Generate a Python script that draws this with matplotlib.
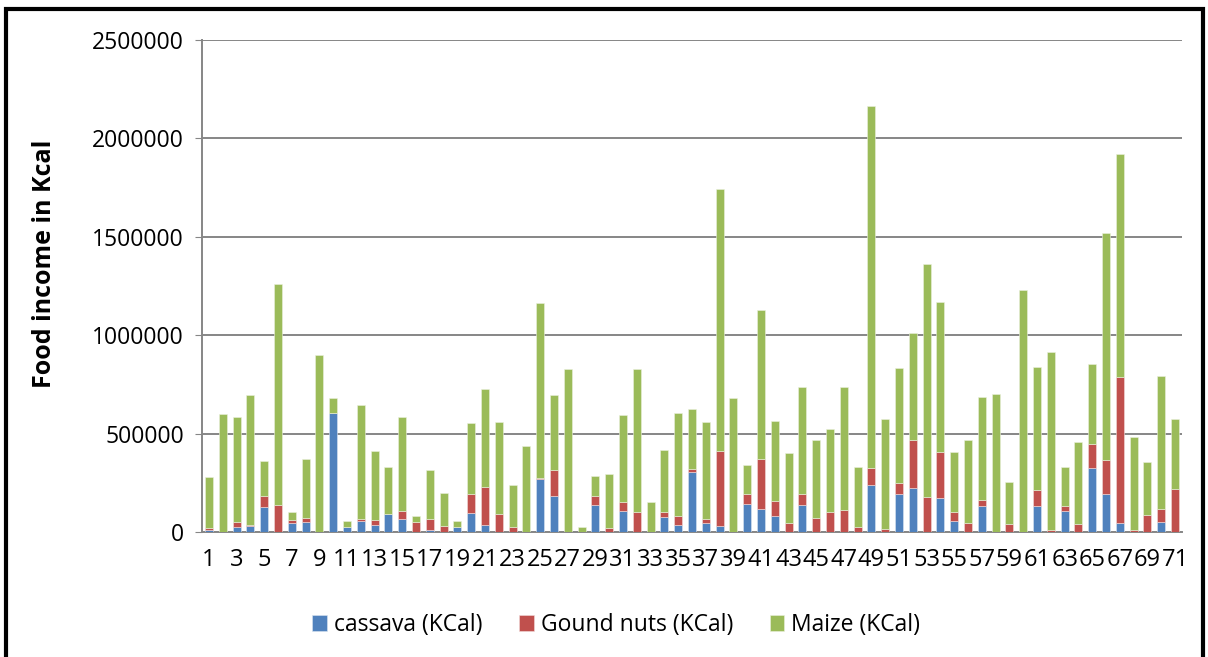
import numpy as np
import matplotlib
matplotlib.use("Agg")
import matplotlib.pyplot as plt
from matplotlib.patches import Rectangle

# food income per household, stacked by crop (KCal)
households = np.arange(1, 72)

cassava = [12000, 0, 25000, 34000, 127000, 0, 45000, 52000, 0, 606000,
           29000, 57000, 35000, 91000, 69000, 0, 13500, 0, 29000, 96000,
           35000, 0, 0, 0, 272000, 184000, 0, 0, 140000, 0,
           108000, 0, 0, 76000, 35000, 304000, 45000, 32000, 0, 143000,
           116000, 81000, 0, 137000, 0, 0, 0, 0, 241000, 0,
           197000, 226000, 0, 174000, 56000, 0, 135000, 0, 0, 0,
           132000, 0, 106000, 0, 327000, 194000, 45000, 0, 0, 51000, 0]

groundnuts = [11600, 3000, 29000, 3000, 59000, 138000, 18500, 20500, 0, 0,
              0, 12000, 27000, 2000, 40700, 54000, 55500, 33700, 0, 99700,
              195600, 94500, 28700, 0, 3000, 133000, 0, 0, 45600, 22000,
              47200, 104600, 0, 28600, 47300, 16500, 23500, 379600, 0, 52300,
              256400, 76000, 49000, 55400, 70900, 103000, 114700, 27000, 87800, 18500,
              54000, 243000, 180500, 236200, 47300, 47000, 27000, 0, 42000, 0,
              82400, 11800, 27000, 44000, 121700, 172000, 742300, 11800, 89400, 69200,
              219000]

maize = [258100, 599000, 531000, 658000, 178400, 1122000, 39000, 298500, 901000, 77000,
         26700, 577000, 349200, 239000, 477300, 27000, 249800, 167000, 26700, 359300,
         496000, 465500, 209200, 440000, 890700, 378000, 830000, 28700, 101200, 273200,
         440300, 725400, 153500, 315400, 524600, 303500, 492800, 1330900, 683000, 145100,
         757200, 408000, 354000, 545000, 398100, 421700, 624300, 307000, 1838000, 555100,
         582000, 543000, 1181500, 761000, 302000, 422000, 524600, 701800, 211000, 1228000,
         626000, 905900, 199000, 415000, 406300, 1155000, 1134200, 474100, 268200, 673200,
         358000]

labels = ['cassava (KCal)', 'Gound nuts (KCal)', 'Maize (KCal)']
colors = ['#4F81BD', '#C0504D', '#9BBB59']

plt.rcParams['font.family'] = ['Open Sans', 'DejaVu Sans']

fig = plt.figure(figsize=(12.08, 6.57), dpi=100)
ax = fig.add_axes([202/1208, 1 - 532.3/657, 980/1208, (532.3 - 40)/657])

c = np.array(cassava)
g = np.array(groundnuts)
m = np.array(maize)
w = 0.58
ax.bar(households, c, w, color=colors[0], edgecolor='#dbe5f1', linewidth=0.4, label=labels[0], zorder=3)
ax.bar(households, g, w, bottom=c, color=colors[1], edgecolor='#f2dcdb', linewidth=0.4, label=labels[1], zorder=3)
ax.bar(households, m, w, bottom=c + g, color=colors[2], edgecolor='#ebf1de', linewidth=0.4, label=labels[2], zorder=3)

ax.set_xlim(0.5, 71.5)
ax.set_ylim(0, 2500000)
ax.set_yticks(np.arange(0, 2500001, 500000))
ax.set_yticklabels([str(v) for v in range(0, 2500001, 500000)])
ax.set_xticks(households[::2])
ax.set_xticklabels([str(h) for h in households[::2]])
ax.yaxis.grid(True, color='#868686', linewidth=1.4, zorder=0)
ax.set_axisbelow(True)

for s in ['top', 'right']:
    ax.spines[s].set_visible(False)
for s in ['left', 'bottom']:
    ax.spines[s].set_color('#868686')
    ax.spines[s].set_linewidth(1.4)

ax.tick_params(axis='y', length=5, color='#868686', labelsize=16.5, pad=8)
ax.tick_params(axis='x', length=0, labelsize=17, pad=11)

ax.set_ylabel('Food income in Kcal', fontsize=18, fontweight='bold')
ax.yaxis.set_label_coords(-0.148, 0.545)

fig.legend(loc='center', bbox_to_anchor=(0.51, 1 - 625/657), ncol=3, frameon=False,
           fontsize=16.5, handlelength=0.65, handleheight=0.65, handletextpad=0.3,
           columnspacing=1.6)

# frame round the whole figure
fig.patches.append(Rectangle((6/1208, -0.05), 1197/1208, 1 - 9/657 + 0.05,
                             transform=fig.transFigure, fill=False,
                             edgecolor='black', linewidth=3))

fig.savefig('out.png', dpi=100)
